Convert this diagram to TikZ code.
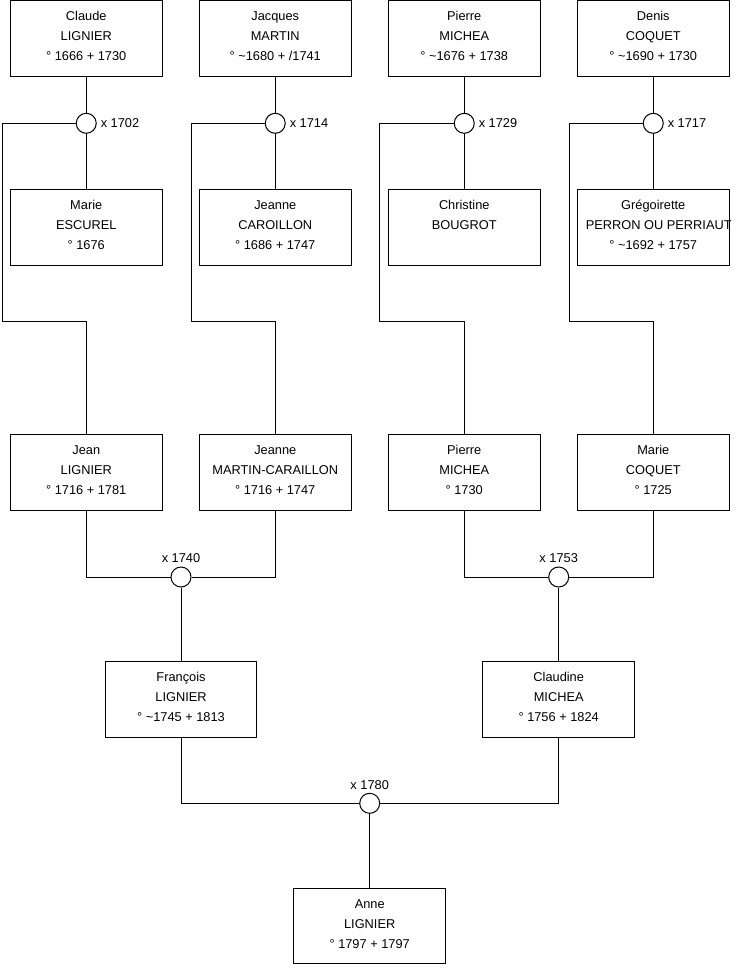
\documentclass[tikz,border=0pt]{standalone}
\usepackage{fontspec}
\setmainfont{Liberation Sans}
\newcommand{\lnstrut}{\rule[-7.75pt]{0pt}{20pt}}
\newcommand{\pers}[3]{\lnstrut #1\\\lnstrut #2\\\lnstrut #3}
\begin{document}
\begin{tikzpicture}[x=1pt,y=-1pt,line width=1pt,
  person/.style={draw, minimum width=151.5pt, minimum height=75.5pt, inner sep=0pt, align=center, font=\fontsize{12.8}{20}\selectfont},
  wed/.style={draw, circle, minimum size=20pt, inner sep=0pt, fill=white},
  lbl/.style={inner sep=0pt, font=\fontsize{12.8}{15}\selectfont}]
\useasboundingbox (0,0) rectangle (740,975);
% row 1
\node[person] (a1) at (86.25,38.25) {\pers{Claude}{LIGNIER}{° 1666 + 1730}};
\node[person] (a2) at (275.25,38.25) {\pers{Jacques}{MARTIN}{° \textasciitilde1680 + /1741}};
\node[person] (a3) at (464.25,38.25) {\pers{Pierre}{MICHEA}{° \textasciitilde1676 + 1738}};
\node[person] (a4) at (653.25,38.25) {\pers{Denis}{COQUET}{° \textasciitilde1690 + 1730}};
% row 2
\node[person] (b1) at (86.25,227.5) {\pers{Marie}{ESCUREL}{° 1676}};
\node[person] (b2) at (275.25,227.5) {\pers{Jeanne}{CAROILLON}{° 1686 + 1747}};
\node[person] (b3) at (464.25,227.5) {\pers{Christine}{BOUGROT}{\mbox{}}};
\node[person] (b4) at (653.25,227.5) {\pers{Grégoirette}{\makebox[0pt]{\hspace*{11pt}PERRON OU PERRIAUT}}{° \textasciitilde1692 + 1757}};
% row 3
\node[person] (c1) at (86.25,472.5) {\pers{Jean}{LIGNIER}{° 1716 + 1781}};
\node[person] (c2) at (275.25,472.5) {\pers{Jeanne}{MARTIN-CARAILLON}{° 1716 + 1747}};
\node[person] (c3) at (464.25,472.5) {\pers{Pierre}{MICHEA}{° 1730}};
\node[person] (c4) at (653.25,472.5) {\pers{Marie}{COQUET}{° 1725}};
% row 4
\node[person] (d1) at (181,699.5) {\pers{François}{LIGNIER}{° \textasciitilde1745 + 1813}};
\node[person] (d2) at (558.7,699.5) {\pers{Claudine}{MICHEA}{° 1756 + 1824}};
% row 5
\node[person] (e1) at (369.7,926) {\pers{Anne}{LIGNIER}{° 1797 + 1797}};
% marriages row 1
\foreach \i/\x/\yr in {1/86.25/1702, 2/275.25/1714, 3/464.25/1729, 4/653.25/1717}{
  \node[wed] (w\i) at (\x,123.3) {};
  \node[lbl, anchor=west] (l\i) at ([xshift=3.5pt]w\i.east) {x \yr};
}
\coordinate (k1a) at (2,123.3);   \coordinate (k1b) at (2,321);
\coordinate (k2a) at (191,123.3); \coordinate (k2b) at (191,321);
\coordinate (k3a) at (379.8,123.3); \coordinate (k3b) at (379.8,321);
\coordinate (k4a) at (569.3,123.3); \coordinate (k4b) at (569.3,321);
\foreach \i in {1,2,3,4}{
  \draw (a\i.south) -- (w\i.north);
  \draw (w\i.south) -- (b\i.north);
  \draw (w\i.west) -- (k\i a) -- (k\i b) -| (c\i.north);
}
% marriages row 3
\node[wed] (w5) at (181,577) {};
\node[lbl] (l5) at (181,558.5) {x 1740};
\node[wed] (w6) at (558.7,577) {};
\node[lbl] (l6) at (558.7,558.5) {x 1753};
\draw (c1.south) |- (w5.west);
\draw (c2.south) |- (w5.east);
\draw (w5.south) -- (d1.north);
\draw (c3.south) |- (w6.west);
\draw (c4.south) |- (w6.east);
\draw (w6.south) -- (d2.north);
% marriage row 4
\node[wed] (w7) at (369.7,803.3) {};
\node[lbl] (l7) at (369.7,785) {x 1780};
\draw (d1.south) |- (w7.west);
\draw (d2.south) |- (w7.east);
\draw (w7.south) -- (e1.north);
\end{tikzpicture}
\end{document}
